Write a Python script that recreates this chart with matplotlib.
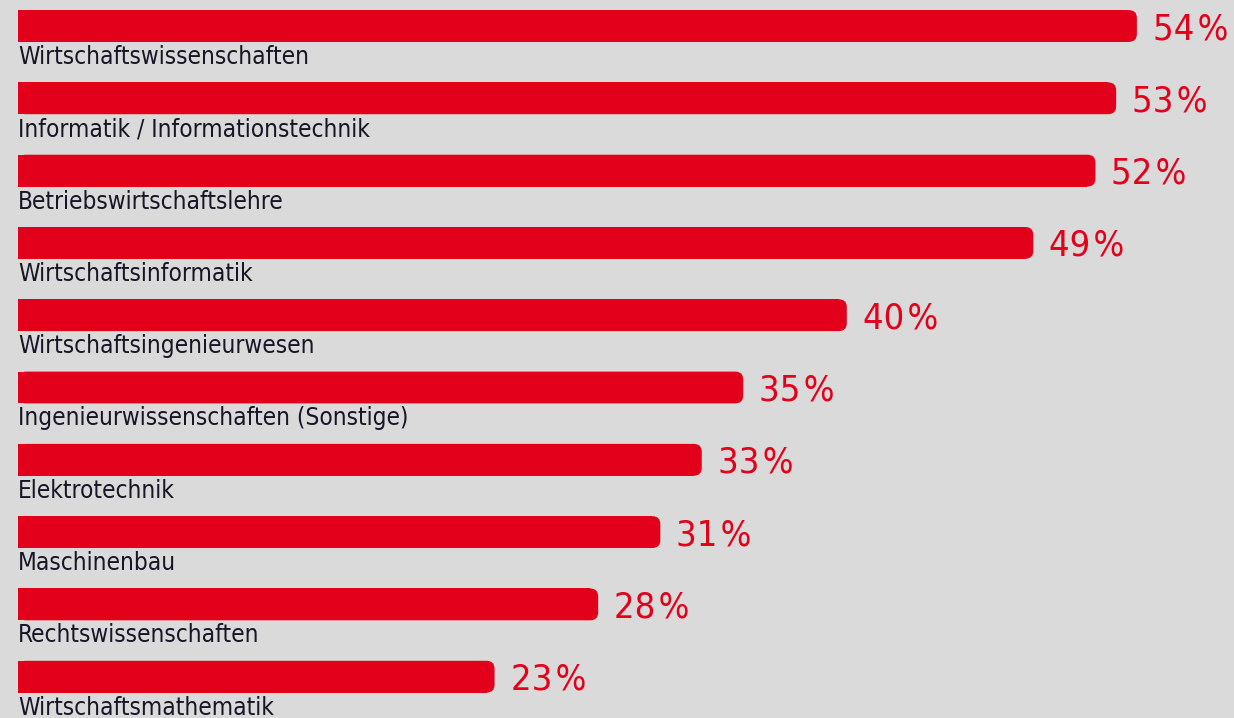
import matplotlib
matplotlib.use("Agg")
import matplotlib.pyplot as plt
from matplotlib.patches import FancyBboxPatch
from matplotlib import font_manager

categories = [
    "Wirtschaftswissenschaften",
    "Informatik / Informationstechnik",
    "Betriebswirtschaftslehre",
    "Wirtschaftsinformatik",
    "Wirtschaftsingenieurwesen",
    "Ingenieurwissenschaften (Sonstige)",
    "Elektrotechnik",
    "Maschinenbau",
    "Rechtswissenschaften",
    "Wirtschaftsmathematik",
]
values = [54, 53, 52, 49, 40, 35, 33, 31, 28, 23]
value_labels = [f"{v}\u200a%" for v in values]

RED = "#e2001a"
BG = "#dadada"
TXT = "#161626"

# look for a condensed face
cond = None
for f in font_manager.fontManager.ttflist:
    if f.name == "DejaVu Sans" and str(f.stretch) in ("condensed", "semi-condensed", "600", "500") and f.style == "normal":
        cond = ("DejaVu Sans", f.stretch)
        break
fam = ["DejaVu Sans"]
stretch = "normal"
if cond:
    stretch = "condensed"
condensed = cond is not None

W, H = 1234, 718
fig = plt.figure(figsize=(W / 100, H / 100), dpi=100, facecolor=BG)
ax = fig.add_axes([0, 0, 1, 1])
ax.set_facecolor(BG)

px_per_x = 20.72
px_per_y = 72.3
ax.set_xlim(-18 / px_per_x, (W - 18) / px_per_x)
ax.set_ylim((H - 26) / px_per_y, -26 / px_per_y)
ax.axis("off")

bh = 0.44
ys = list(range(len(categories)))
r = 8 / px_per_x
aspect = px_per_x / px_per_y
bars = ax.barh(ys, [v - r for v in values], height=bh, color=RED, linewidth=0)
for bar, v in zip(bars, values):
    x0, y0 = bar.get_x(), bar.get_y()
    p = FancyBboxPatch((x0, y0), v, bh,
                       boxstyle=f"round,pad=0,rounding_size={r}",
                       mutation_aspect=aspect, facecolor=RED, edgecolor="none")
    ax.add_patch(p)

lab_size = 17.5 if condensed else 16
val_size = 26 if condensed else 23
for y, cat, v, lab in zip(ys, categories, values, value_labels):
    ax.text(0, y + bh / 2 + 3 / px_per_y, cat, ha="left", va="top",
            fontsize=lab_size, color=TXT, family=fam, fontstretch=stretch)
    ax.text(v + 16 / px_per_x, y + 3 / px_per_y, lab, ha="left", va="center",
            fontsize=val_size, color=RED, family=fam, fontstretch=stretch)

fig.savefig("out.png", dpi=100, facecolor=BG)
